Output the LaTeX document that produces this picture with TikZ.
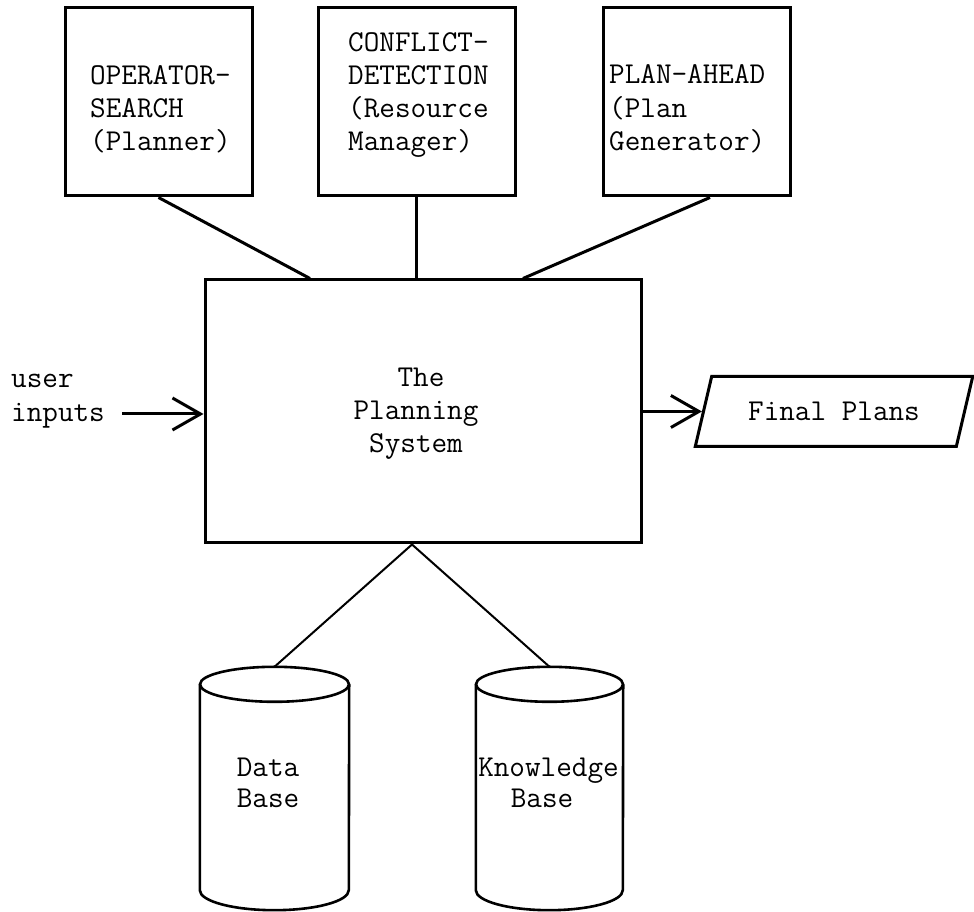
\documentclass[tikz,border=0pt]{standalone}
\usepackage{fontspec}
\usetikzlibrary{arrows.meta,shapes.geometric,calc}
\begin{document}
\begin{tikzpicture}[x=1pt,y=1pt,
  box/.style={draw,line width=3pt,minimum width=187pt,minimum height=188pt,inner sep=0pt},
  txt/.style={font=\ttfamily\fontsize{30.3}{33}\selectfont,inner sep=0pt},
  lt/.style={txt,anchor=base west},
  ct/.style={txt,anchor=base},
  link/.style={line width=3pt},
  thinlink/.style={line width=2pt},
  cyl/.style={line width=2.6pt},
  arr/.style={line width=3pt,-{Straight Barb[length=28pt,width=32pt]}},
]
\useasboundingbox (0,0) rectangle (974,912);

% top boxes
\node[box] (b1) at (158.5,810) {};
\node[box,minimum width=197pt] (b2) at (416.5,810) {};
\node[box] (b3) at (696.5,810) {};

\node[lt] (b1l1) at (90,827) {OPERATOR-};
\node[lt] (b1l2) at (90,794) {SEARCH};
\node[lt] (b1l3) at (90,761) {(Planner)};

\node[lt] (b2l1) at (348,860) {CONFLICT-};
\node[lt] (b2l2) at (348,827) {DETECTION};
\node[lt] (b2l3) at (348,794) {(Resource};
\node[lt] (b2l4) at (348,761) {Manager)};

\node[lt] (b3l1) at (609,828) {PLAN-AHEAD};
\node[lt] (b3l2) at (609,794) {(Plan};
\node[lt] (b3l3) at (609,761) {Generator)};

% main box
\node[box,minimum width=436pt,minimum height=263pt] (main) at (423,500.5) {};
\node[ct] (m1) at (421,525) {The};
\node[ct] (m2) at (416,492) {Planning};
\node[ct] (m3) at (416,459) {System};

% connectors to top boxes
\draw[link] (b1.south) -- ($(main.north)+(-113,0)$);
\draw[link] (b2.south) -- (b2.south |- main.north);
\draw[link] ($(b3.south)+(13.5,0)$) -- ($(main.north)+(100,0)$);

% user inputs
\node[lt] (u1) at (11,524) {user};
\node[lt] (u2) at (11,490) {inputs};
\coordinate (uin) at (122,498);
\draw[arr] (uin) -- (uin -| main.west);

% final plans
\node[trapezium,draw,line width=3pt,trapezium left angle=58.4,trapezium right angle=121.6,
      trapezium stretches=true,minimum width=278pt,minimum height=70pt,inner sep=0pt,txt]
      (fp) at (834,500.5) {Final Plans};
\draw[arr] (main.east) -- (fp.left side);

% cylinders
\node[inner sep=0pt,minimum width=149pt,minimum height=243pt] (db) at (274.5,123.5) {};
\node[inner sep=0pt,minimum width=147pt,minimum height=243pt] (kb) at (549.5,123.5) {};

\draw[cyl] ($(db.north)+(0,-17.5)$) ellipse [x radius=74.5, y radius=17.5];
\draw[cyl] ($(db.north west)+(0,-17.5)$) -- ($(db.south west)+(0,20)$)
   arc[start angle=180,end angle=360,x radius=74.5,y radius=20] -- ($(db.north east)+(0,-17.5)$);
\draw[cyl] ($(kb.north)+(0,-17.5)$) ellipse [x radius=73.5, y radius=17.5];
\draw[cyl] ($(kb.north west)+(0,-17.5)$) -- ($(kb.south west)+(0,20)$)
   arc[start angle=180,end angle=360,x radius=73.5,y radius=20] -- ($(kb.north east)+(0,-17.5)$);

\node[ct] (d1) at (268,135) {Data};
\node[ct] (d2) at (268,104) {Base};
\node[ct] (k1) at (548.5,135) {Knowledge};
\node[ct] (k2) at (542,104) {Base};

% connectors to cylinders
\coordinate (ms) at ($(main.south)+(-11,0)$);
\draw[thinlink] (ms) -- (db.north);
\draw[thinlink] (ms) -- (kb.north);
\end{tikzpicture}
\end{document}
